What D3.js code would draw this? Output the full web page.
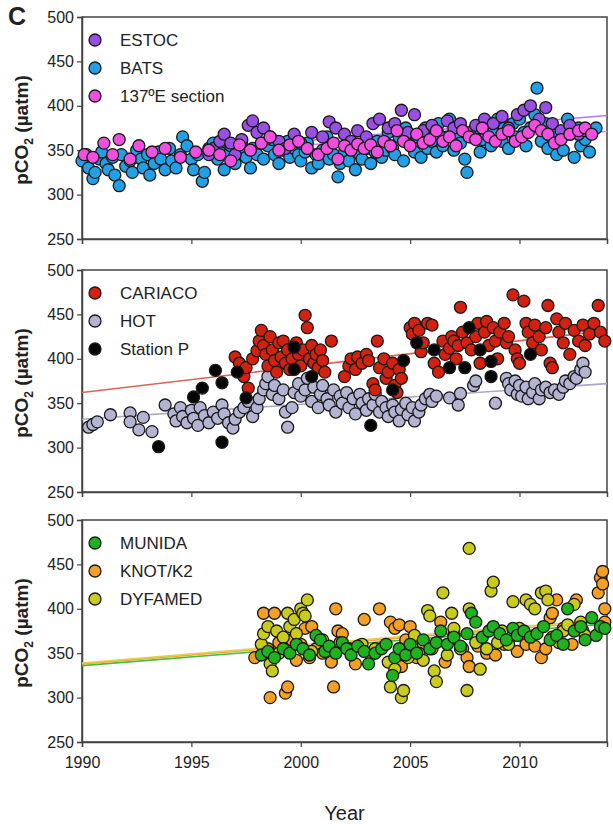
<!DOCTYPE html>
<html>
<head>
<meta charset="utf-8">
<script src="https://cdn.jsdelivr.net/npm/d3@7"></script>
<style>
  body { margin: 0; background: #fff; }
  svg text { font-family: "Liberation Sans Narrow", "Arial Narrow", "Liberation Sans", Arial, sans-serif; fill: #222; }
</style>
</head>
<body>
<div id="chart"></div>
<script>
// ---- data: [year, pCO2 (µatm)] ----
const yearTicks = [1990, 1995, 2000, 2005, 2010];
const pco2Ticks = [250, 300, 350, 400, 450, 500];

const estoc = [[1995.8,345],[1996.0,352],[1996.3,360],[1996.5,368],[1996.8,358],[1997.0,345],[1997.3,362],[1997.6,378],[1997.8,383],[1998.0,370],[1998.3,375],[1998.6,365],[1999.0,360],[1999.3,352],[1999.7,368],[2000.0,358],[2000.5,370],[2001.0,365],[2001.3,382],[2001.6,375],[2002.0,368],[2002.3,360],[2002.6,372],[2003.0,365],[2003.3,380],[2003.6,385],[2004.0,375],[2004.3,380],[2004.6,395],[2004.9,370],[2005.2,390],[2005.6,372],[2006.0,378],[2006.3,368],[2006.7,383],[2007.0,375],[2007.3,380],[2007.7,370],[2008.0,378],[2008.4,385],[2008.8,380],[2009.2,388],[2009.5,375],[2009.9,390],[2010.2,395],[2010.5,400],[2010.9,385],[2011.2,398],[2011.5,380],[2011.9,372],[2012.3,378],[2012.7,368],[2013.0,372]];

const bats = [[1990.0,338],[1990.2,345],[1990.3,330],[1990.5,318],[1990.6,325],[1990.8,340],[1990.9,348],[1991.1,335],[1991.2,328],[1991.4,342],[1991.5,322],[1991.7,310],[1991.8,345],[1992.0,332],[1992.2,338],[1992.3,325],[1992.5,350],[1992.7,340],[1992.8,330],[1993.0,345],[1993.1,322],[1993.3,335],[1993.5,348],[1993.6,340],[1993.8,328],[1994.0,352],[1994.1,338],[1994.3,330],[1994.5,345],[1994.6,365],[1994.8,355],[1995.0,340],[1995.1,328],[1995.3,345],[1995.5,315],[1995.6,325],[1995.8,352],[1996.0,358],[1996.2,340],[1996.3,348],[1996.5,328],[1996.7,345],[1996.8,355],[1997.0,335],[1997.2,350],[1997.3,360],[1997.5,342],[1997.7,330],[1997.8,352],[1998.0,345],[1998.2,358],[1998.3,340],[1998.5,355],[1998.7,362],[1998.8,345],[1999.0,335],[1999.2,350],[1999.4,360],[1999.5,342],[1999.7,352],[1999.9,345],[2000.0,338],[2000.2,348],[2000.3,358],[2000.5,330],[2000.7,345],[2000.8,335],[2001.0,350],[2001.2,365],[2001.3,340],[2001.5,345],[2001.7,320],[2001.8,335],[2002.0,348],[2002.2,338],[2002.3,358],[2002.5,328],[2002.7,345],[2002.8,340],[2003.0,352],[2003.2,335],[2003.4,348],[2003.5,360],[2003.7,342],[2003.9,350],[2004.0,370],[2004.2,352],[2004.3,345],[2004.5,365],[2004.7,338],[2004.8,375],[2005.0,358],[2005.2,348],[2005.3,365],[2005.5,342],[2005.7,375],[2005.8,352],[2006.0,360],[2006.2,348],[2006.3,380],[2006.5,355],[2006.7,365],[2006.8,385],[2007.0,350],[2007.2,370],[2007.3,358],[2007.5,340],[2007.6,325],[2007.8,365],[2008.0,375],[2008.2,348],[2008.3,362],[2008.5,380],[2008.7,355],[2008.8,370],[2009.0,385],[2009.2,360],[2009.3,375],[2009.5,352],[2009.7,380],[2009.8,365],[2010.0,385],[2010.2,370],[2010.3,355],[2010.5,375],[2010.7,390],[2010.8,420],[2011.0,360],[2011.2,380],[2011.3,352],[2011.5,370],[2011.7,345],[2011.8,360],[2012.0,350],[2012.2,385],[2012.3,368],[2012.5,342],[2012.7,375],[2012.8,355],[2013.0,362],[2013.2,348],[2013.3,370],[2013.5,375]];

const section137E = [[1990.1,345],[1990.5,342],[1991.0,358],[1991.4,345],[1991.7,362],[1992.2,340],[1992.6,355],[1993.2,348],[1993.8,352],[1994.5,342],[1995.2,348],[1995.8,350],[1996.3,345],[1996.8,338],[1997.2,356],[1997.7,350],[1998.2,358],[1998.6,365],[1999.0,350],[1999.5,356],[1999.9,360],[2000.3,352],[2000.8,345],[2001.2,352],[2001.5,358],[2001.7,340],[2002.0,355],[2002.3,350],[2002.6,357],[2002.9,352],[2003.2,356],[2003.5,348],[2003.8,360],[2004.1,355],[2004.4,372],[2004.7,360],[2005.0,355],[2005.3,368],[2005.6,358],[2005.9,362],[2006.2,372],[2006.5,360],[2006.8,365],[2007.1,355],[2007.4,372],[2007.7,365],[2008.0,362],[2008.3,375],[2008.6,365],[2008.9,360],[2009.2,368],[2009.5,372],[2009.8,360],[2010.1,365],[2010.4,370],[2010.7,378],[2011.0,372],[2011.3,368],[2011.6,358],[2011.9,362],[2012.3,368],[2012.7,372],[2013.0,375],[2013.3,368]];

const cariaco = [[1997.0,402],[1997.2,395],[1997.4,380],[1997.5,390],[1997.6,367],[1997.8,400],[1998.0,409],[1998.1,420],[1998.2,432],[1998.3,415],[1998.4,405],[1998.5,392],[1998.6,425],[1998.7,410],[1998.8,398],[1998.9,385],[1999.0,418],[1999.1,402],[1999.2,420],[1999.3,395],[1999.4,410],[1999.5,388],[1999.6,400],[1999.8,418],[1999.9,405],[2000.0,392],[2000.1,410],[2000.2,449],[2000.3,435],[2000.4,400],[2000.5,415],[2000.6,395],[2000.7,405],[2000.8,390],[2000.9,410],[2001.0,398],[2001.1,385],[2001.4,420],[2002.0,380],[2002.2,392],[2002.3,400],[2002.5,388],[2002.6,402],[2002.8,395],[2003.0,405],[2003.1,398],[2003.3,372],[2003.4,365],[2003.5,420],[2003.6,390],[2003.8,400],[2003.9,378],[2004.0,385],[2004.2,395],[2004.3,370],[2004.4,362],[2004.5,388],[2004.6,378],[2005.0,435],[2005.1,428],[2005.2,440],[2005.4,432],[2005.5,408],[2005.6,418],[2005.8,440],[2006.0,438],[2006.1,395],[2006.3,385],[2006.5,420],[2006.6,405],[2006.8,412],[2006.9,425],[2007.0,420],[2007.1,400],[2007.2,415],[2007.3,458],[2007.4,430],[2007.6,418],[2007.8,410],[2008.0,425],[2008.1,440],[2008.2,395],[2008.4,430],[2008.5,442],[2008.6,415],[2008.8,435],[2008.9,420],[2009.0,400],[2009.1,430],[2009.3,440],[2009.4,418],[2009.5,425],[2009.7,472],[2009.8,410],[2009.9,400],[2010.0,395],[2010.2,465],[2010.3,440],[2010.4,430],[2010.6,418],[2010.7,438],[2010.9,425],[2011.0,410],[2011.2,435],[2011.3,460],[2011.4,395],[2011.5,390],[2011.7,445],[2011.8,430],[2012.0,418],[2012.1,440],[2012.3,405],[2012.5,432],[2012.7,420],[2012.9,438],[2013.0,415],[2013.2,428],[2013.4,440],[2013.6,460],[2013.7,430],[2013.9,420]];

const hot = [[1990.3,323],[1990.5,326],[1990.7,329],[1991.3,337],[1992.2,339],[1992.2,329],[1992.6,320],[1992.8,334],[1993.2,318],[1993.8,348],[1994.2,338],[1994.3,330],[1994.5,345],[1994.6,335],[1994.8,328],[1995.0,342],[1995.1,333],[1995.3,325],[1995.4,345],[1995.6,336],[1995.8,328],[1996.0,340],[1996.2,333],[1996.4,348],[1996.5,338],[1996.7,328],[1996.9,322],[1997.0,332],[1997.2,340],[1997.4,345],[1997.6,352],[1997.8,335],[1998.0,345],[1998.1,355],[1998.3,365],[1998.4,372],[1998.5,380],[1998.7,360],[1998.8,370],[1999.0,355],[1999.2,365],[1999.3,340],[1999.4,323],[1999.6,345],[1999.7,362],[1999.9,372],[2000.0,358],[2000.2,365],[2000.3,378],[2000.5,352],[2000.6,368],[2000.8,345],[2000.9,360],[2001.0,370],[2001.2,355],[2001.3,348],[2001.5,365],[2001.6,340],[2001.8,358],[2001.9,350],[2002.1,362],[2002.2,345],[2002.4,355],[2002.5,338],[2002.7,360],[2002.8,350],[2003.0,342],[2003.1,355],[2003.3,348],[2003.4,360],[2003.6,340],[2003.7,352],[2003.9,345],[2004.0,335],[2004.2,348],[2004.3,340],[2004.5,330],[2004.6,343],[2004.8,350],[2004.9,337],[2005.1,345],[2005.2,330],[2005.4,340],[2005.5,348],[2005.7,355],[2005.9,360],[2006.0,352],[2006.2,358],[2006.8,356],[2007.2,348],[2007.3,361],[2007.9,370],[2008.0,375],[2008.9,350],[2009.4,378],[2009.5,372],[2009.6,365],[2009.8,375],[2009.9,360],[2010.0,370],[2010.1,358],[2010.3,368],[2010.4,355],[2010.6,362],[2010.7,372],[2010.9,355],[2011.0,365],[2011.2,368],[2011.4,362],[2011.6,365],[2011.8,360],[2012.0,368],[2012.1,375],[2012.3,372],[2012.5,380],[2012.6,378],[2012.8,388],[2012.9,395],[2013.0,385]];

const stationP = [[1993.5,301],[1995.1,357],[1995.5,367],[1996.1,387],[1996.4,373],[1996.4,306],[1997.1,385],[1997.5,356],[1999.7,413],[1999.7,388],[2000.5,380],[2003.2,325],[2004.2,365],[2004.7,398],[2005.3,418],[2006.1,410],[2006.8,390],[2007.5,390],[2007.7,435],[2008.2,410],[2008.7,397],[2008.7,380],[2010.5,405]];

const munida = [[1998.2,348],[1998.5,352],[1998.8,345],[1999.2,355],[1999.5,350],[1999.8,360],[2000.1,355],[2000.4,348],[2000.7,370],[2000.9,365],[2001.1,352],[2001.3,358],[2001.6,350],[2001.9,362],[2002.1,355],[2002.3,348],[2002.6,358],[2002.9,352],[2003.1,338],[2003.4,350],[2003.7,355],[2003.9,360],[2004.2,325],[2004.3,345],[2004.5,355],[2004.8,348],[2005.0,360],[2005.3,350],[2005.6,365],[2005.9,355],[2006.2,362],[2006.4,375],[2006.7,360],[2007.0,368],[2007.3,358],[2007.6,372],[2007.8,395],[2008.0,385],[2008.3,368],[2008.6,375],[2008.8,380],[2009.1,372],[2009.4,365],[2009.7,378],[2009.9,370],[2010.2,375],[2010.5,368],[2010.8,372],[2011.1,380],[2011.4,365],[2011.7,370],[2012.0,360],[2012.2,400],[2012.5,375],[2012.8,380],[2013.0,365],[2013.3,390],[2013.5,370],[2013.7,380],[2013.9,378]];

const knotK2 = [[1997.9,345],[1998.3,395],[1998.5,355],[1998.6,300],[1998.8,395],[1999.0,362],[1999.3,305],[1999.4,312],[1999.6,365],[1999.8,342],[2000.0,360],[2000.2,378],[2000.4,345],[2000.5,380],[2000.7,355],[2001.0,350],[2001.4,340],[2001.5,312],[2001.6,400],[2001.7,375],[2001.9,372],[2002.5,338],[2002.9,388],[2003.2,348],[2003.6,400],[2004.1,385],[2004.3,378],[2004.5,382],[2004.6,335],[2004.8,365],[2005.0,380],[2005.3,345],[2005.6,360],[2006.0,355],[2006.4,385],[2006.6,340],[2007.0,370],[2007.4,355],[2007.6,345],[2007.7,335],[2008.1,358],[2008.5,350],[2008.9,348],[2009.3,360],[2009.9,352],[2010.3,360],[2010.7,358],[2011.0,345],[2011.2,355],[2011.4,390],[2011.5,395],[2011.7,410],[2012.0,378],[2012.4,360],[2012.6,410],[2012.9,375],[2013.6,418],[2013.7,435],[2013.8,442],[2013.8,428],[2013.9,400],[2013.9,385]];

const dyfamed = [[1998.2,360],[1998.3,372],[1998.5,380],[1998.6,338],[1998.7,330],[1998.9,375],[1999.0,350],[1999.2,368],[1999.4,395],[1999.5,380],[1999.7,388],[1999.8,372],[2000.0,400],[2000.1,395],[2000.2,392],[2000.3,410],[2000.5,352],[2001.0,365],[2001.8,362],[2002.2,355],[2002.8,360],[2003.4,355],[2004.0,340],[2004.1,312],[2004.3,332],[2004.6,300],[2004.7,308],[2004.9,345],[2005.2,370],[2005.4,350],[2005.6,342],[2005.8,398],[2005.9,392],[2006.1,330],[2006.2,318],[2006.5,418],[2006.7,348],[2006.9,395],[2007.0,378],[2007.3,355],[2007.6,308],[2007.7,400],[2007.7,468],[2008.0,362],[2008.2,332],[2008.5,355],[2008.7,420],[2008.8,430],[2009.0,362],[2009.2,375],[2009.5,360],[2009.7,408],[2010.0,378],[2010.3,410],[2010.5,405],[2010.7,400],[2011.0,418],[2011.2,420],[2011.3,410],[2011.5,368],[2011.8,362],[2012.0,375],[2012.2,382],[2012.5,405],[2012.8,385],[2013.0,370]];

// trend lines: [start year, start pCO2, end year, end pCO2]
const trend1 = [[1990, 340, 2014, 389], [1990, 345, 2014, 371]];
const trend2 = [[1990, 362, 2014, 432], [1990, 332, 2014, 372]];
const trend3 = [[1990, 336, 2014, 383], [1990, 338, 2014, 386], [1990, 339, 2014, 388]];

// ---- layout ----
const width = 613, height = 830;
const margin = { left: 82, right: 6 };
const panelTops = [17, 270, 520];
const panelH = 222;

const svg = d3.select("#chart").append("svg")
  .attr("width", width).attr("height", height);

const x = d3.scaleLinear().domain([1990, 2014]).range([margin.left, width - margin.right]);

const panels = [
  { top: panelTops[0], trends: trend1, trendColors: ["#b27ae6", "#d48be3"],
    series: [
      { name: "ESTOC", data: estoc, color: "#9a4fe3" },
      { name: "BATS", data: bats, color: "#22a0e6" },
      { name: "137ºE section", data: section137E, color: "#f24fe0" }
    ] },
  { top: panelTops[1], trends: trend2, trendColors: ["#d9645a", "#a9a9c4"],
    series: [
      { name: "CARIACO", data: cariaco, color: "#d4200e" },
      { name: "HOT", data: hot, color: "#b3b3d2" },
      { name: "Station P", data: stationP, color: "#050505" }
    ] },
  { top: panelTops[2], trends: trend3, trendColors: ["#3fbf3f", "#f2a640", "#e0d050"],
    series: [
      { name: "MUNIDA", data: munida, color: "#1fb21f" },
      { name: "KNOT/K2", data: knotK2, color: "#f5a025" },
      { name: "DYFAMED", data: dyfamed, color: "#c9cc1c" }
    ] }
];

// drawing order for the dots (bottom to top) per panel
const drawOrder = [[1, 0, 2], [1, 0, 2], [1, 2, 0]];

panels.forEach((p, i) => {
  const y = d3.scaleLinear().domain([250, 500]).range([p.top + panelH, p.top]);
  const g = svg.append("g");

  // frame
  g.append("rect")
    .attr("x", margin.left).attr("y", p.top)
    .attr("width", width - margin.right - margin.left).attr("height", panelH)
    .attr("fill", "none").attr("stroke", "#444").attr("stroke-width", 1.5);

  // y axis
  const yAxis = g.append("g")
    .attr("transform", `translate(${margin.left},0)`)
    .call(d3.axisLeft(y).tickValues(pco2Ticks).tickSize(5).tickPadding(3));
  yAxis.select(".domain").attr("stroke", "#444").attr("stroke-width", 1.5);
  yAxis.selectAll(".tick line").attr("stroke", "#444").attr("stroke-width", 1.2);
  yAxis.selectAll("text").attr("font-size", 16).attr("fill", "#222");

  // x axis
  const xAxis = g.append("g")
    .attr("transform", `translate(0,${p.top + panelH})`)
    .call(d3.axisBottom(x).tickValues(yearTicks).tickSize(5).tickPadding(10)
      .tickFormat(i === 2 ? d3.format("d") : ""));
  xAxis.select(".domain").attr("stroke", "#444").attr("stroke-width", 1.5);
  xAxis.selectAll(".tick line").attr("stroke", "#444").attr("stroke-width", 1.2);
  xAxis.selectAll("text").attr("font-size", 16).attr("fill", "#222");

  // y label
  const lab = g.append("text")
    .attr("transform", `translate(28,${p.top + panelH / 2 + 2}) rotate(-90)`)
    .attr("text-anchor", "middle")
    .attr("font-size", 19).attr("font-weight", "bold");
  lab.append("tspan").text("pCO");
  lab.append("tspan").text("2").attr("font-size", 12).attr("dy", 5);
  lab.append("tspan").text(" (µatm)").attr("dy", -5);

  // trend lines
  g.selectAll(".trend").data(p.trends).join("line")
    .attr("x1", d => x(d[0])).attr("y1", d => y(d[1]))
    .attr("x2", d => x(d[2])).attr("y2", d => y(d[3]))
    .attr("stroke", (d, j) => p.trendColors[j]).attr("stroke-width", 1.6);

  // dots
  drawOrder[i].forEach(k => {
    const s = p.series[k];
    g.append("g").selectAll("circle").data(s.data).join("circle")
      .attr("cx", d => x(d[0])).attr("cy", d => y(d[1]))
      .attr("r", 6)
      .attr("fill", s.color).attr("stroke", "#1a1a1a").attr("stroke-width", 1.3);
  });

  // legend
  const leg = g.append("g");
  p.series.forEach((s, j) => {
    const ly = p.top + 23 + j * 28;
    leg.append("circle").attr("cx", 95).attr("cy", ly).attr("r", 6)
      .attr("fill", s.color).attr("stroke", "#1a1a1a").attr("stroke-width", 1.3);
    leg.append("text").attr("x", 120).attr("y", ly + 6)
      .attr("font-size", 17).text(s.name);
  });
});

// panel letter and x title
svg.append("text").attr("x", 8).attr("y", 25)
  .attr("font-size", 25).attr("font-weight", "bold").text("C");
svg.append("text").attr("x", (margin.left + width - margin.right) / 2).attr("y", 820)
  .attr("text-anchor", "middle").attr("font-size", 20).text("Year");
</script>
</body>
</html>
